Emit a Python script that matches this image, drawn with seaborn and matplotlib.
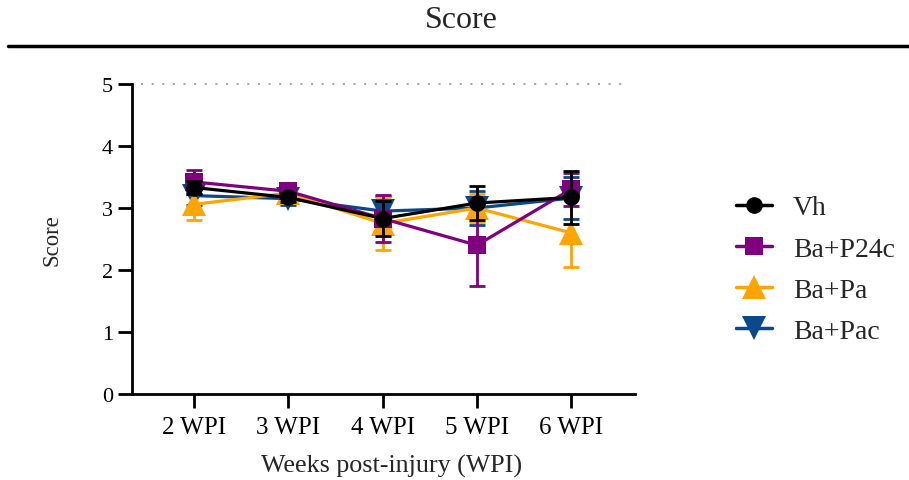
import matplotlib
matplotlib.use("Agg")
import matplotlib.pyplot as plt
import seaborn as sns
import pandas as pd
import numpy as np
from matplotlib.lines import Line2D

weeks = ["2 WPI", "3 WPI", "4 WPI", "5 WPI", "6 WPI"]
groups = ["Vh", "Ba+P24c", "Ba+Pa", "Ba+Pac"]
vh_mean = [3.33, 3.17, 2.83, 3.08, 3.17]
vh_sem = [0.10, 0.08, 0.28, 0.27, 0.43]
p24c_mean = [3.42, 3.27, 2.83, 2.40, 3.30]
p24c_sem = [0.20, 0.07, 0.38, 0.65, 0.27]
pa_mean = [3.06, 3.24, 2.75, 3.00, 2.60]
pa_sem = [0.25, 0.08, 0.43, 0.23, 0.55]
pac_mean = [3.20, 3.15, 2.95, 3.00, 3.16]
pac_sem = [0.15, 0.10, 0.25, 0.27, 0.34]

means = {"Vh": vh_mean, "Ba+P24c": p24c_mean, "Ba+Pa": pa_mean, "Ba+Pac": pac_mean}
sems = {"Vh": vh_sem, "Ba+P24c": p24c_sem, "Ba+Pa": pa_sem, "Ba+Pac": pac_sem}
colors = {"Vh": "#000000", "Ba+P24c": "#800080", "Ba+Pa": "#FFA500", "Ba+Pac": "#084A8C"}
markers = {"Vh": "o", "Ba+P24c": "s", "Ba+Pa": "^", "Ba+Pac": "v"}
msizes = {"Vh": 12, "Ba+P24c": 12.5, "Ba+Pa": 17, "Ba+Pac": 17}

rows = []
for g in groups:
    for i, w in enumerate(weeks):
        rows.append({"week": w, "x": i, "group": g, "score": means[g][i], "sem": sems[g][i]})
df = pd.DataFrame(rows)

sns.set_theme(style="ticks")
plt.rcParams["font.family"] = ["Liberation Serif", "DejaVu Serif"]

W, H = 909, 481
fig = plt.figure(figsize=(W / 100, H / 100), dpi=100)
ax_l, ax_r, ax_t, ax_b = 131.7, 635, 85, 395
ax = fig.add_axes([ax_l / W, 1 - ax_b / H, (ax_r - ax_l) / W, (ax_b - ax_t) / H])

draw_order = ["Ba+Pac", "Ba+Pa", "Ba+P24c", "Vh"]
for z, g in enumerate(draw_order):
    sub = df[df["group"] == g]
    ax.errorbar(sub["x"], sub["score"], yerr=sub["sem"], fmt="none",
                ecolor=colors[g], elinewidth=2, capsize=6, capthick=2, zorder=2 + 2 * z)
    sns.lineplot(data=sub, x="x", y="score", ax=ax, color=colors[g],
                 marker=markers[g], markersize=msizes[g], markeredgewidth=0,
                 linewidth=2.3, zorder=3 + 2 * z, legend=False, errorbar=None)

ax.axhline(5, color="#aaaaaa", linestyle=(0, (1, 4.1)), linewidth=1.5,
           xmin=0.018, xmax=0.985, zorder=1, clip_on=False)

ax.set_xlim(-0.665, 4.68)
ax.set_ylim(0, 5)
ax.set_xticks(range(len(weeks)))
ax.set_xticklabels(weeks)
ax.set_yticks([0, 1, 2, 3, 4, 5])
ax.tick_params(axis="both", width=2, length=10, color="black", labelcolor="black")
ax.tick_params(axis="x", pad=6, labelsize=18)
ax.tick_params(axis="y", pad=3.4, labelsize=16)
for s in ["top", "right"]:
    ax.spines[s].set_visible(False)
for s in ["left", "bottom"]:
    ax.spines[s].set_linewidth(2)
    ax.spines[s].set_color("black")
ax.set_xlabel("Weeks post-injury (WPI)", fontsize=18.7)
ax.set_ylabel("Score", fontsize=16.4)
ax.xaxis.set_label_coords((392 - ax_l) / (ax_r - ax_l), 1 - (466 - ax_t) / (ax_b - ax_t))
ax.xaxis.label.set_va("center")
ax.yaxis.set_label_coords((52 - ax_l) / (ax_r - ax_l), 0.5)
ax.yaxis.label.set_va("center")

handles = [Line2D([0], [0], color=colors[g], marker=markers[g], markersize=msizes[g],
                  markeredgewidth=0, linewidth=2.5) for g in groups]
fig.legend(handles, groups, loc="center left", bbox_to_anchor=(736 / W, 1 - 270.5 / H),
           frameon=False, fontsize=20, handlelength=1.3, labelspacing=0.57,
           handletextpad=0.75, borderpad=0, borderaxespad=0)

fig.text(461 / W, 1 - 20 / H, "Score", ha="center", va="center", fontsize=23)
fig.add_artist(Line2D([8 / W, 1.0], [1 - 47 / H, 1 - 47 / H], color="black", linewidth=2.5))

fig.savefig("out.png", dpi=100)
